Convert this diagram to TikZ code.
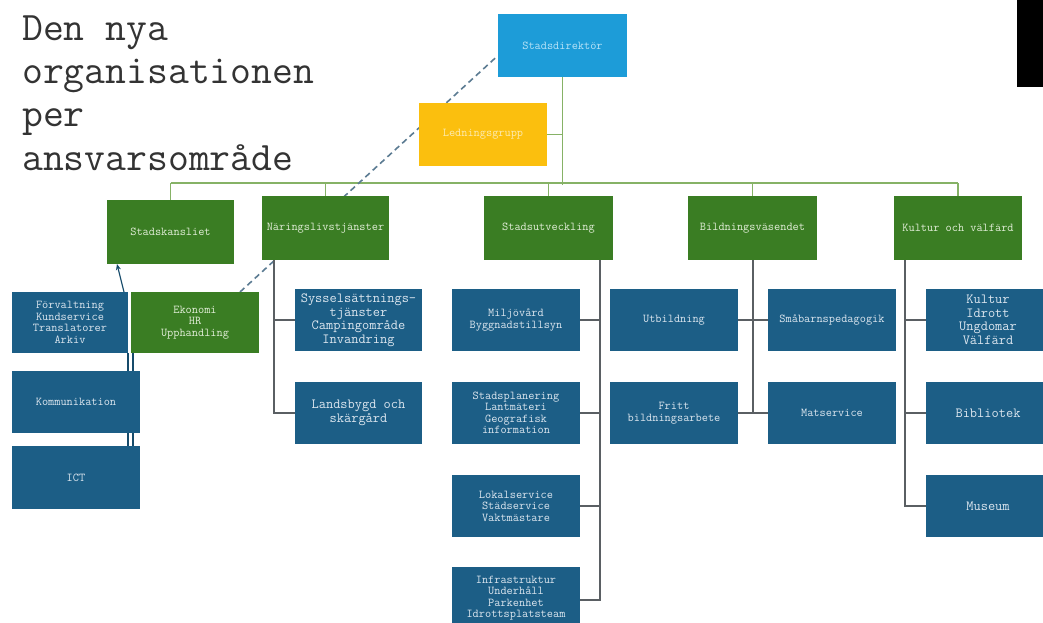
\documentclass[tikz,border=0pt]{standalone}
\usepackage{fontspec}
\usetikzlibrary{arrows.meta}
\definecolor{dirblue}{HTML}{1D9CD8}
\definecolor{ledyellow}{HTML}{FBBF0E}
\definecolor{orggreen}{HTML}{3A7D23}
\definecolor{orgblue}{HTML}{1C5E86}
\definecolor{linegray}{HTML}{5A5F63}
\definecolor{busgreen}{HTML}{86B266}
\definecolor{dashblue}{HTML}{5B7B92}
\definecolor{titlegray}{HTML}{333333}
\definecolor{txtgreen}{HTML}{E2EED8}
\definecolor{txtblue}{HTML}{DCE6EF}
\definecolor{txtdir}{HTML}{B8E3F7}
\definecolor{txtled}{HTML}{FDEBB0}
\pgfdeclarelayer{bg}
\pgfsetlayers{bg,main}
\newcommand\orgbox[7]{\node[#6, minimum width={#4-#2}, minimum height={#5-#3}] (#1) at ({(#2+#4)/2},{(#3+#5)/2}) {#7};}
\begin{document}
\begin{tikzpicture}[x=1pt,y=-1pt,
  base/.style={rectangle, inner sep=0pt, outer sep=0pt, align=center, font=\ttfamily\fontsize{12}{11.5}\selectfont},
  dirbox/.style={base, fill=dirblue, text=txtdir},
  ledbox/.style={base, fill=ledyellow, text=txtled},
  greenbox/.style={base, fill=orggreen, text=txtgreen},
  bluebox/.style={base, fill=orgblue, text=txtblue},
  bigtxt/.style={font=\ttfamily\fontsize{14}{13.5}\selectfont},
  conn/.style={draw=linegray, line width=1.4pt},
  busline/.style={draw=busgreen, line width=1.6pt},
  bconn/.style={draw=orgblue!80!black, line width=1.2pt},
  dashline/.style={draw=dashblue, line width=1.6pt, dash pattern=on 6pt off 4pt},
  titletxt/.style={anchor=base west, inner sep=0pt, text=titlegray, font=\ttfamily\fontsize{40.5}{41}\selectfont}
]
\useasboundingbox (0,0) rectangle (1043,623);
\fill[black] (1017,0) rectangle (1043,87);

% title
\node[titletxt] (t1) at (22,41) {Den nya};
\node[titletxt] (t2) at (22,84) {organisationen};
\node[titletxt] (t3) at (22,127) {per};
\node[titletxt] (t4) at (22,170) {ansvarsområde};

% top
\orgbox{dir}{498}{14}{627}{77}{dirbox}{Stadsdirektör}
\orgbox{led}{419}{103}{547}{166}{ledbox}{Ledningsgrupp}

% level 2
\orgbox{kansli}{107}{200}{234}{264}{greenbox}{Stadskansliet}
\orgbox{nar}{262}{196}{389}{260}{greenbox}{Näringslivstjänster}
\orgbox{utv}{484}{196}{613}{260}{greenbox}{Stadsutveckling}
\orgbox{bild}{688}{196}{817}{260}{greenbox}{Bildningsväsendet}
\orgbox{kult}{894}{196}{1022}{260}{greenbox}{Kultur och välfärd}

% Stadskansliet column
\orgbox{forv}{12}{292}{128}{353}{bluebox}{Förvaltning\\Kundservice\\Translatorer\\Arkiv}
\orgbox{eko}{131}{292}{259}{353}{greenbox}{Ekonomi\\HR\\Upphandling}
\orgbox{komm}{12}{371}{140}{433}{bluebox}{Kommunikation}
\orgbox{ict}{12}{446}{140}{509}{bluebox}{ICT}

% Näringsliv column
\orgbox{syss}{295}{289}{422}{351}{bluebox,bigtxt}{Sysselsättnings-\\tjänster\\Campingområde\\Invandring}
\orgbox{lands}{295}{382}{422}{444}{bluebox,bigtxt}{Landsbygd och\\skärgård}

% Stadsutveckling column
\orgbox{miljo}{452}{289}{580}{351}{bluebox}{Miljövård\\Byggnadstillsyn}
\orgbox{plan}{452}{382}{580}{444}{bluebox}{Stadsplanering\\Lantmäteri\\Geografisk\\information}
\orgbox{lokal}{452}{475}{580}{537}{bluebox}{Lokalservice\\Städservice\\Vaktmästare}
\orgbox{infra}{452}{567}{580}{629}{bluebox}{Infrastruktur\\Underhåll\\Parkenhet\\Idrottsplatsteam}

% Bildning column
\orgbox{utb}{610}{289}{738}{351}{bluebox}{Utbildning}
\orgbox{fritt}{610}{382}{738}{444}{bluebox}{Fritt\\bildningsarbete}
\orgbox{smab}{768}{289}{896}{351}{bluebox}{Småbarnspedagogik}
\orgbox{mat}{768}{382}{896}{444}{bluebox}{Matservice}

% Kultur column
\orgbox{kiuv}{926}{289}{1050}{351}{bluebox,bigtxt}{Kultur\\Idrott\\Ungdomar\\Välfärd}
\orgbox{bibl}{926}{382}{1050}{444}{bluebox,bigtxt}{Bibliotek}
\orgbox{mus}{926}{475}{1050}{537}{bluebox,bigtxt}{Museum}

\begin{pgfonlayer}{bg}
  \fill[white] (0,0) rectangle (1043,623);
  % bus
  \coordinate (bus) at (0,183);
  \draw[busline] (kansli.north |- bus) -- (kult.north |- bus);
  \foreach \n in {kansli,nar,utv,bild,kult} \draw[busline] (\n.north) -- (\n.north |- bus);
  \draw[busline] (dir.south) -- ([yshift=-2pt]dir.south |- bus);
  \draw[busline] (led.east) -- (led.east -| dir.south);
  % dashed link
  \draw[dashline] ([xshift=-19pt]eko.north east) -- ([yshift=-10pt]dir.west);
  % Stadskansliet links
  \draw[bconn,-{Stealth[length=6pt,width=5pt]}] ([xshift=-4pt]forv.north east) -- ([xshift=10pt]kansli.south west);
  \draw[bconn] (forv.south east) -- (forv.south east |- ict.north);
  \draw[bconn] ([xshift=5pt]forv.south east) -- ([xshift=5pt]forv.south east |- ict.north);
  % Näringsliv
  \coordinate (nv) at (274,0);
  \draw[conn] (nv |- nar.south) |- (lands.west);
  \draw[conn] (nv |- syss.west) -- (syss.west);
  % Stadsutveckling
  \coordinate (sv) at (600,0);
  \draw[conn] (sv |- utv.south) |- ([yshift=-2pt]infra.east);
  \foreach \n in {miljo,plan,lokal} \draw[conn] (\n.east) -- (\n.east -| sv);
  % Bildning
  \coordinate (bv) at (753,0);
  \draw[conn] (bv |- bild.south) -- (bv |- fritt.east);
  \draw[conn] (utb.east) -- (smab.west);
  \draw[conn] (fritt.east) -- (mat.west);
  % Kultur
  \coordinate (kv) at (905,0);
  \draw[conn] (kv |- kult.south) |- (mus.west);
  \foreach \n in {kiuv,bibl} \draw[conn] (kv |- \n.west) -- (\n.west);
\end{pgfonlayer}
\end{tikzpicture}
\end{document}
